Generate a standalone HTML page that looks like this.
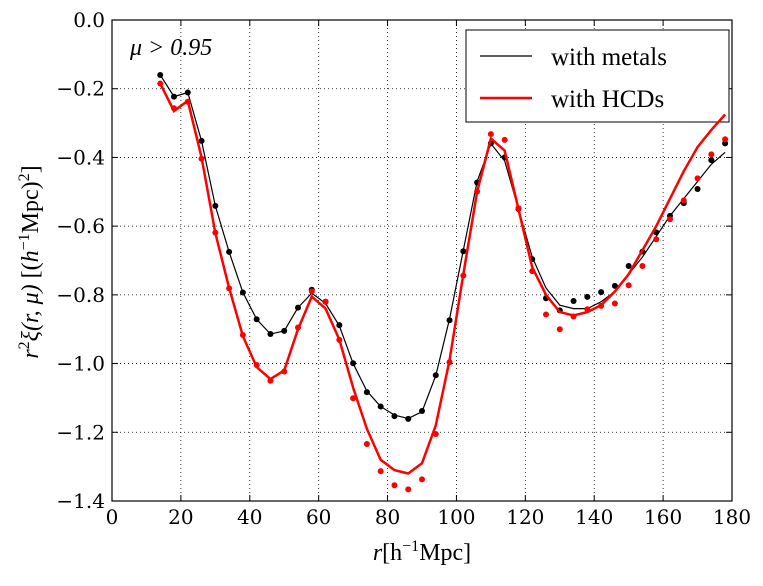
<!DOCTYPE html>
<html><head><meta charset="utf-8"><style>
body{margin:0;background:#fff}
svg text{font-family:"Liberation Serif","DejaVu Serif",serif}
svg text.tick{font-family:"DejaVu Serif","Liberation Serif",serif}
</style></head><body>
<svg id="chart" width="763" height="581" xmlns="http://www.w3.org/2000/svg"></svg>
<script>
const rVals=[14,18,22,26,30,34,38,42,46,50,54,58,62,66,70,74,78,82,86,90,94,98,102,106,110,114,118,122,126,130,134,138,142,146,150,154,158,162,166,170,174,178];
const metalsPts=[-0.16,-0.223,-0.211,-0.352,-0.541,-0.675,-0.793,-0.871,-0.914,-0.905,-0.837,-0.785,-0.82,-0.888,-0.999,-1.083,-1.125,-1.153,-1.161,-1.138,-1.034,-0.874,-0.673,-0.473,-0.359,-0.40,-0.55,-0.696,-0.81,-0.845,-0.818,-0.806,-0.792,-0.774,-0.716,-0.674,-0.618,-0.57,-0.533,-0.492,-0.408,-0.359];
const metalsLine=[-0.16,-0.223,-0.211,-0.352,-0.541,-0.675,-0.793,-0.871,-0.914,-0.905,-0.837,-0.795,-0.825,-0.89,-1.0,-1.08,-1.125,-1.15,-1.16,-1.14,-1.035,-0.87,-0.67,-0.47,-0.36,-0.41,-0.55,-0.69,-0.78,-0.83,-0.84,-0.84,-0.82,-0.79,-0.74,-0.69,-0.63,-0.57,-0.52,-0.47,-0.42,-0.385];
const hcdPts=[-0.185,-0.257,-0.238,-0.404,-0.619,-0.781,-0.917,-1.004,-1.05,-1.023,-0.895,-0.79,-0.82,-0.931,-1.101,-1.234,-1.313,-1.354,-1.366,-1.337,-1.205,-0.996,-0.744,-0.499,-0.332,-0.349,-0.548,-0.731,-0.857,-0.90,-0.863,-0.842,-0.832,-0.825,-0.772,-0.716,-0.638,-0.58,-0.525,-0.461,-0.391,-0.347];
const hcdLine=[-0.185,-0.265,-0.235,-0.40,-0.62,-0.78,-0.92,-1.01,-1.045,-1.02,-0.90,-0.805,-0.84,-0.93,-1.07,-1.19,-1.28,-1.31,-1.32,-1.29,-1.18,-0.99,-0.74,-0.50,-0.345,-0.38,-0.55,-0.72,-0.80,-0.85,-0.86,-0.85,-0.83,-0.79,-0.74,-0.67,-0.60,-0.52,-0.44,-0.37,-0.32,-0.275];
const xTicks=[0,20,40,60,80,100,120,140,160,180];
const yTicks=[0,-0.2,-0.4,-0.6,-0.8,-1.0,-1.2,-1.4];
const yTickLabels=["0.0","\u22120.2","\u22120.4","\u22120.6","\u22120.8","\u22121.0","\u22121.2","\u22121.4"];

const L=112,R=732,T=20,B=501;
const xs=v=>L+(v-0)/180*(R-L);
const ys=v=>T+(0-v)/1.4*(B-T);
const svg=document.getElementById('chart');
const NS="http://www.w3.org/2000/svg";
function mk(tag,attrs,parent){const e=document.createElementNS(NS,tag);for(const k in attrs)e.setAttribute(k,attrs[k]);(parent||svg).appendChild(e);return e;}

const grid=mk('g',{});


xTicks.forEach(t=>{
  const x=xs(t);
  if(t>0&&t<180){const g=mk('line',{x1:x,x2:x,y1:T,y2:B,stroke:'#000','stroke-width':0.8,'stroke-dasharray':'1,3'},grid);}
  mk('line',{x1:x,x2:x,y1:B,y2:B-6,stroke:'#000'},grid);
  mk('line',{x1:x,x2:x,y1:T,y2:T+6,stroke:'#000'},grid);
  const tx=mk('text',{x:x,y:B+23,'text-anchor':'middle','font-size':20,'class':'tick'},svg);
  tx.textContent=t;
  
  
});
yTicks.forEach((t,i)=>{
  const y=ys(t);
  if(i>0&&i<yTicks.length-1){const g=mk('line',{x1:L,x2:R,y1:y,y2:y,stroke:'#000','stroke-width':0.8,'stroke-dasharray':'1,3'},grid);}
  mk('line',{x1:L,x2:L+6,y1:y,y2:y,stroke:'#000'},grid);
  mk('line',{x1:R,x2:R-6,y1:y,y2:y,stroke:'#000'},grid);
  const tx=mk('text',{x:L-7,y:y+7,'text-anchor':'end','font-size':20,'class':'tick'},svg);
  tx.textContent=yTickLabels[i];
  
  
});

function series(line,pts,color,w,name){
  const g=mk('g',{});
  
  
  const p=mk('polyline',{points:rVals.map((r,i)=>xs(r)+','+ys(line[i])).join(' '),fill:'none',stroke:color,'stroke-width':w,'stroke-linejoin':'miter'},g);
  
  
  rVals.forEach((r,i)=>{
    const c=mk('circle',{cx:xs(r),cy:ys(pts[i]),r:3,fill:color},g);
    
    
  });
}

const leg=mk('g',{});


mk('rect',{x:466,y:30,width:263,height:92,fill:'#fff',stroke:'#000','stroke-width':1},leg);
mk('line',{x1:480,x2:532,y1:56,y2:56,stroke:'#000','stroke-width':1.2},leg);
mk('line',{x1:480,x2:532,y1:98,y2:98,stroke:'#ff0000','stroke-width':2.5},leg);
const l1=mk('text',{x:551,y:65,'font-size':25},leg);l1.textContent='with metals';


const l2=mk('text',{x:551,y:107,'font-size':25},leg);l2.textContent='with HCDs';



series(metalsLine,metalsPts,'#000',1.2,'metals-series');
series(hcdLine,hcdPts,'#ff0000',2.5,'hcd-series');

const frame=mk('rect',{x:L,y:T,width:R-L,height:B-T,fill:'none',stroke:'#000','stroke-width':1.2});



const ann=mk('text',{x:130,y:55,'font-size':24,'font-style':'italic'});
ann.textContent='\u03bc > 0.95';



const xl=mk('text',{x:422,y:560,'text-anchor':'middle','font-size':24});
xl.innerHTML='<tspan font-style="italic">r</tspan>[h<tspan dy="-9" font-size="16">\u22121</tspan><tspan dy="9">Mpc]</tspan>';


const yl=mk('text',{x:0,y:0,'text-anchor':'middle','font-size':24,transform:'translate(38,262) rotate(-90)'});
yl.innerHTML='<tspan font-style="italic">r</tspan><tspan dy="-9" font-size="16">2</tspan><tspan dy="9" font-style="italic">\u03be(r, \u03bc)</tspan> [(<tspan font-style="italic">h</tspan><tspan dy="-9" font-size="16">\u22121</tspan><tspan dy="9">Mpc)</tspan><tspan dy="-9" font-size="16">2</tspan><tspan dy="9">]</tspan>';


</script>
</body></html>
